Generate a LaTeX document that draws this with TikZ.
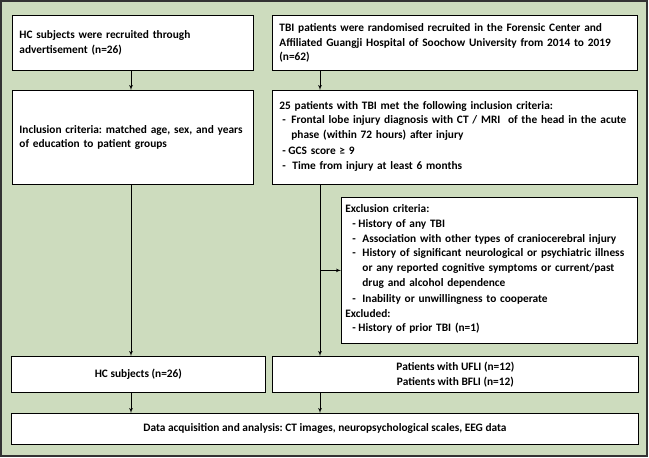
\documentclass[tikz,border=0pt]{standalone}
\usepackage{fontspec}
\setmainfont{Carlito}
\usetikzlibrary{arrows}
\setlength{\parindent}{0pt}
\frenchspacing
\definecolor{bggreen}{RGB}{205,220,190}
\newcommand{\dashitem}[3]{\par\noindent\makebox[#2][l]{\hspace*{#1}-}\parbox[t]{\dimexpr\linewidth-#2\relax}{\raggedright #3\strut}}
\tikzstyle{box}=[draw,fill=white,line width=0.8pt,anchor=north west,inner xsep=7pt,inner ysep=2pt,align=left,font=\bfseries\fontsize{11.35}{14.8}\selectfont]
\tikzstyle{cbox}=[draw,fill=white,line width=0.8pt,anchor=north west,inner sep=0pt,align=center,font=\bfseries\fontsize{11.35}{14.8}\selectfont]
\tikzstyle{arr}=[->,>=latex',draw,line width=0.7pt]
\begin{document}
\begin{tikzpicture}[x=1pt,y=-1pt]
  \useasboundingbox (0,0) rectangle (649,458);
  \draw[fill=bggreen,draw=black!80,line width=1.2pt] (1,1) rectangle (647,456);
  % healthy controls
  \node[box,text width=227pt,minimum height=55pt] (hc1) at (12,15) {HC subjects were recruited through\\advertisement (n=26)};
  \node[box,text width=227pt,minimum height=94pt] (hc2) at (12,90) {Inclusion criteria: matched age, sex, and years\\of education to patient groups};
  \node[cbox,minimum width=254pt,minimum height=36pt] (hc3) at (11,356) {HC subjects (n=26)};
  % TBI patients
  \node[box,text width=351pt,minimum height=55pt] (tbi1) at (272,15) {TBI patients were randomised recruited in the Forensic Center and\\Affiliated Guangji Hospital of Soochow University from 2014 to 2019\\(n=62)};
  \node[box,text width=351pt,minimum height=94pt] (tbi2) at (272,90) {25 patients with TBI met the following inclusion criteria:
    \dashitem{3pt}{12pt}{Frontal lobe injury diagnosis with CT / MRI\ \ of the head in the acute\\phase (within 72 hours) after injury}
    \dashitem{3pt}{9pt}{GCS score ≥ 9}
    \dashitem{3pt}{13pt}{Time from injury at least 6 months}};
  \node[box,inner xsep=4pt,text width=288pt,minimum height=146pt] (excl) at (341,197) {Exclusion criteria:
    \dashitem{7pt}{13pt}{History of any TBI}
    \dashitem{7pt}{17pt}{Association with other types of craniocerebral injury}
    \dashitem{7pt}{17pt}{History of significant neurological or psychiatric illness\\or any reported cognitive symptoms or current/past\\drug and alcohol dependence}
    \dashitem{7pt}{17pt}{Inability or unwillingness to cooperate}
    \par\noindent Excluded:
    \dashitem{7pt}{13pt}{History of prior TBI (n=1)}};
  \node[cbox,minimum width=366pt,minimum height=36pt] (pat) at (272,356) {Patients with UFLI (n=12)\\Patients with BFLI (n=12)};
  \node[cbox,minimum width=627pt,minimum height=31pt] (data) at (11,413) {Data acquisition and analysis: CT images, neuropsychological scales, EEG data};
  % connectors
  \coordinate (lx) at (131,0);
  \coordinate (rx) at (320,0);
  \draw[arr] (lx |- hc1.south) -- (lx |- hc2.north);
  \draw[arr] (lx |- hc2.south) -- (lx |- hc3.north);
  \draw[arr] (lx |- hc3.south) -- (lx |- data.north);
  \draw[arr] (rx |- tbi1.south) -- (rx |- tbi2.north);
  \draw[arr] (rx |- tbi2.south) -- (rx |- pat.north);
  \draw[arr] (rx |- excl.west) -- (excl.west);
  \draw[arr] (rx |- pat.south) -- (rx |- data.north);
\end{tikzpicture}
\end{document}
